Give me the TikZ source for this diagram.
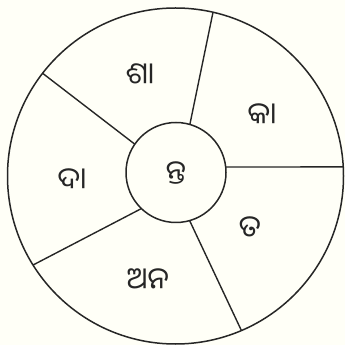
\documentclass[tikz,border=0pt]{standalone}
\usepackage{fontspec}
\usetikzlibrary{calc}
\newfontfamily\odia[Script=Oriya]{Noto Sans Oriya UI}
\begin{document}
\begin{tikzpicture}[x=1pt,y=1pt,
  ring/.style={line width=1.5pt,draw=black!85},
  spoke/.style={line width=1.4pt,draw=black!85},
  lbl/.style={font=\odia\fontsize{30}{34}\selectfont,text=black!85,inner sep=0pt}]
\useasboundingbox (0,0) rectangle (345,345);
\fill[white!97!yellow] (0,0) rectangle (345,345);
\coordinate (co) at (175.5,169);
\coordinate (ci) at (176,172.5);
\draw[ring] (co) circle[radius=168];
\draw[ring] (ci) circle[radius=50];
\coordinate (i1) at ($(ci)+(73.9:50)$);
\coordinate (o1) at ($(co)+(77.1:168)$);
\coordinate (i2) at ($(ci)+(6.3:50)$);
\coordinate (o2) at ($(co)+(3.1:168)$);
\coordinate (i3) at ($(ci)+(-74.2:50)$);
\coordinate (o3) at ($(co)+(-66.9:168)$);
\coordinate (i4) at ($(ci)+(226.2:50)$);
\coordinate (o4) at ($(co)+(212:168)$);
\coordinate (i5) at ($(ci)+(145.5:50)$);
\coordinate (o5) at ($(co)+(142.3:168)$);
\foreach \k in {1,...,5} \draw[spoke] (i\k) -- (o\k);
\node[lbl] (sha) at (140,270) {ଶା};
\node[lbl] (ka) at (262,230) {କା};
\node[lbl] (nta) at (176,172) {ନ୍ତ};
\node[lbl] (daa) at (72,165) {ଦା};
\node[lbl] (ta) at (250,117) {ତ};
\node[lbl] (ana) at (148,65) {ଅନ};
\end{tikzpicture}
\end{document}
